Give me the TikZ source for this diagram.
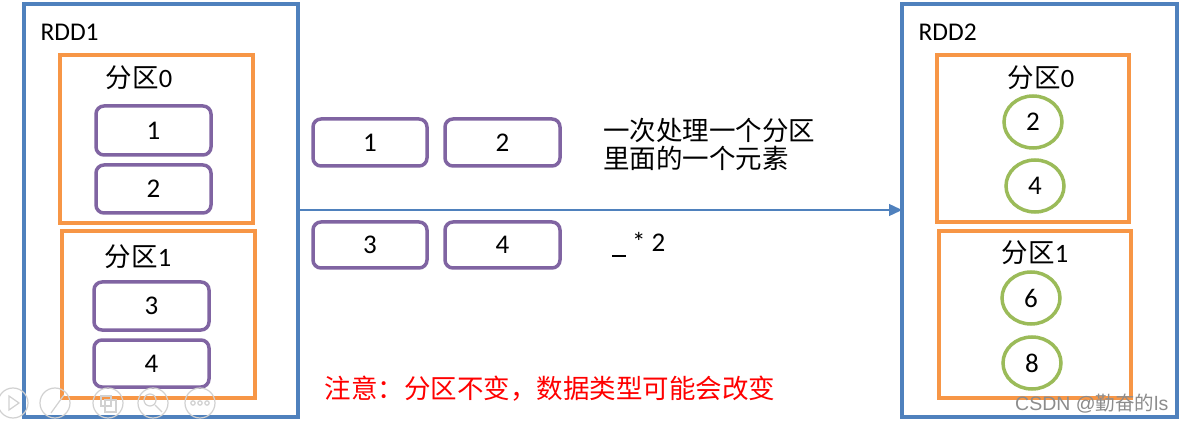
\documentclass[tikz,border=0pt]{standalone}
\usepackage{fontspec}
\setmainfont{Carlito}
\newfontfamily\cjk{Noto Sans CJK SC}
\usetikzlibrary{arrows.meta,shapes.geometric}
\definecolor{rddblue}{RGB}{79,129,189}
\definecolor{partorange}{RGB}{247,150,70}
\definecolor{elempurple}{RGB}{128,100,162}
\definecolor{elemgreen}{RGB}{155,187,89}
\tikzset{
  rdd/.style={draw=rddblue,line width=3.5pt},
  part/.style={draw=partorange,line width=3.5pt},
  elem/.style={draw=elempurple,line width=3.5pt,rounded corners=8pt},
  circ/.style={draw=elemgreen,line width=3.5pt,ellipse,minimum width=58pt,minimum height=52pt,inner sep=0pt},
  num/.style={font=\fontsize{27}{30}\selectfont},
  lbl/.style={font=\fontsize{25.5}{29}\selectfont},
  cj/.style={font=\fontsize{26.5}{31}\selectfont\cjk},
  tool/.style={draw=black!18,line width=1.2pt},
}
\begin{document}
\begin{tikzpicture}[x=1pt,y=-1pt]
\useasboundingbox[fill=white] (0,0) rectangle (1192,422);
% RDD1
\draw[rdd] (24,4) rectangle (298,417);
\coordinate (r1e) at (298,210);
\node[lbl,anchor=west] (rdd1) at (37,32) {RDD1};
\draw[part] (60,55) rectangle (253,223);
\draw[part] (62,231) rectangle (255,398);
\node[cj] (p10) at (139,78) {分区\fontspec{Carlito}0};
\node[cj] (p11) at (138,257) {分区\fontspec{Carlito}1};
\draw[elem] (96,106) rectangle (211,155);
\node[num] (a1) at (153.5,130.5) {1};
\draw[elem] (96,165) rectangle (211,213);
\node[num] (a2) at (153.5,189) {2};
\draw[elem] (94,282) rectangle (209,330);
\node[num] (a3) at (151.5,306) {3};
\draw[elem] (94,340) rectangle (209,387);
\node[num] (a4) at (151.5,363.5) {4};
% middle
\draw[elem] (313,119) rectangle (427,166);
\node[num] (m1) at (370,142.5) {1};
\draw[elem] (445,119) rectangle (560,166);
\node[num] (m2) at (502.5,142.5) {2};
\draw[elem] (313,222) rectangle (427,268);
\node[num] (m3) at (370,245) {3};
\draw[elem] (445,222) rectangle (560,268);
\node[num] (m4) at (502.5,245) {4};
\node[cj,anchor=west,align=left,inner sep=0pt] (desc) at (603,144) {一次处理一个分区\\[-3pt]里面的一个元素};
\node[font=\fontsize{27}{30}\selectfont,anchor=base west,inner sep=0pt] (fn) at (612,252) {\rule[-5pt]{14pt}{2pt}\hspace{6pt}\raisebox{1pt}{*}\hspace{6pt}2};
\node[cj,text=red] (note) at (550,389) {注意：分区不变，数据类型可能会改变};
% RDD2
\draw[rdd] (902,4) rectangle (1177,417);
\coordinate (r2w) at (902,210);
\draw[-{Triangle[length=13pt,width=12pt]},draw=rddblue,fill=rddblue,line width=1.4pt] (r1e) -- (r2w);
\node[lbl,anchor=west] (rdd2) at (915,32) {RDD2};
\draw[part] (937,55) rectangle (1129,222);
\draw[part] (939,231) rectangle (1131,398);
\node[cj] (p20) at (1041,78) {分区\fontspec{Carlito}0};
\node[cj] (p21) at (1035,253) {分区\fontspec{Carlito}1};
\node[circ,num] (c2) at (1033,122) {2};
\node[circ,num] (c4) at (1035,186) {4};
\node[circ,num] (c6) at (1031,298) {6};
\node[circ,num] (c8) at (1032,363) {8};
% watermark
\node[font=\fontsize{19.5}{22}\selectfont\cjk,text=black!45,anchor=west,inner sep=0pt] (wm) at (1015,404) {\fontspec{Liberation Sans}CSDN @\cjk 勤奋的\fontspec{Liberation Sans}ls};
% toolbar icons
\foreach \cx/\nm in {13/t1,55/t2,108/t3,153/t4,200/t5}{
  \node[tool,circle,minimum size=30pt,inner sep=0pt] (\nm) at (\cx,403) {};
}
\draw[tool] (9,396) -- (9,410) -- (19,403) -- cycle;
\draw[tool] (51,413) -- (64,395);
\draw[tool] (101,396) rectangle (111,406);
\draw[tool] (105,400) rectangle (116,412);
\draw[tool] (150,400) circle (6pt);
\draw[tool] (155,405) -- (162,412);
\foreach \dx in {193,200,207}{\draw[tool] (\dx,403) circle (2.2pt);}
\end{tikzpicture}
\end{document}
